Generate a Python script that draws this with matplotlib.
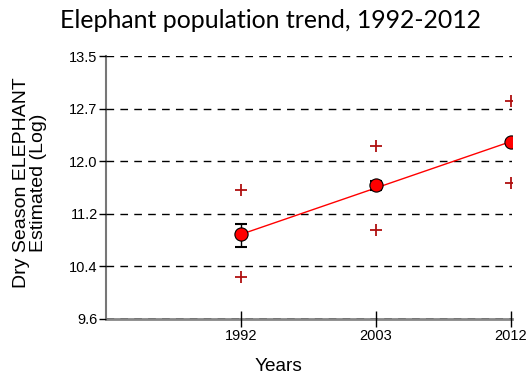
import matplotlib
matplotlib.use("Agg")
import matplotlib.pyplot as plt
import numpy as np

years = ["1992", "2003", "2012"]
means = [10.855, 11.58, 12.23]
err_low = [0.19, 0.06, 0.03]
err_high = [0.15, 0.06, 0.03]
upper_pts = [11.51, 12.17, 12.84]
lower_pts = [10.225, 10.92, 11.62]
trend = [10.855, 12.23]
ytick_vals = [9.6, 10.38, 11.16, 11.94, 12.72, 13.5]
ytick_labels = ["9.6", "10.4", "11.2", "12.0", "12.7", "13.5"]

plt.rcParams['font.family'] = ['Liberation Sans', 'DejaVu Sans']

fig = plt.figure(figsize=(5.3, 3.75), dpi=100)
ax = fig.add_axes([106/530, 1-319/375, (512-106)/530, (319-56)/375])

x = np.arange(1, len(years) + 1)

for yv in ytick_vals:
    ax.axhline(yv, color='black', lw=1, ls=(0, (5.5, 4.5)), zorder=1)

ax.plot([x[0], x[-1]], trend, color='red', lw=1, zorder=3)
ax.plot(x, upper_pts, '+', color='#b01010', ms=9, mew=1.3, zorder=3)
ax.plot(x, lower_pts, '+', color='#b01010', ms=9, mew=1.3, zorder=3)
ax.errorbar(x, means, yerr=[err_low, err_high], fmt='none', ecolor='black',
            elinewidth=1, capsize=4.5, capthick=1.5, zorder=4)
ax.plot(x, means, 'o', color='red', mec='black', mew=0.8, ms=9.5, zorder=5)

ax.set_xlim(0, 3.01)
ax.set_ylim(9.6, 13.5)
ax.set_xticks(x)
ax.set_xticklabels(years, fontsize=10.5)
ax.set_yticks(ytick_vals)
ax.set_yticklabels(ytick_labels, fontsize=10.5)
ax.tick_params(axis='x', direction='inout', length=11, width=1, color='black', pad=2)
ax.tick_params(axis='y', direction='out', length=5, width=1, color='black', pad=1)

for s in ['top', 'right']:
    ax.spines[s].set_visible(False)
ax.spines['left'].set_color('#777777')
ax.spines['left'].set_linewidth(1.5)
ax.spines['bottom'].set_color('#888888')
ax.spines['bottom'].set_linewidth(2)
ax.spines['left'].set_zorder(0.5)
ax.spines['bottom'].set_zorder(0.5)

ax.set_xlabel("Years", fontsize=13.7)
ax.xaxis.set_label_coords((278-106)/406, (319-358)/263)
ax.set_ylabel("Dry Season ELEPHANT\nEstimated (Log)", fontsize=14, linespacing=0.98)
ax.yaxis.set_label_coords((47-106)/406, (319-182.5)/263)

fig.text(270/530, 1-20/375, "Elephant population trend, 1992-2012", ha='center', va='center',
         fontsize=17.9, family=['Lato', 'DejaVu Sans'])

fig.savefig("out.png", dpi=100)
